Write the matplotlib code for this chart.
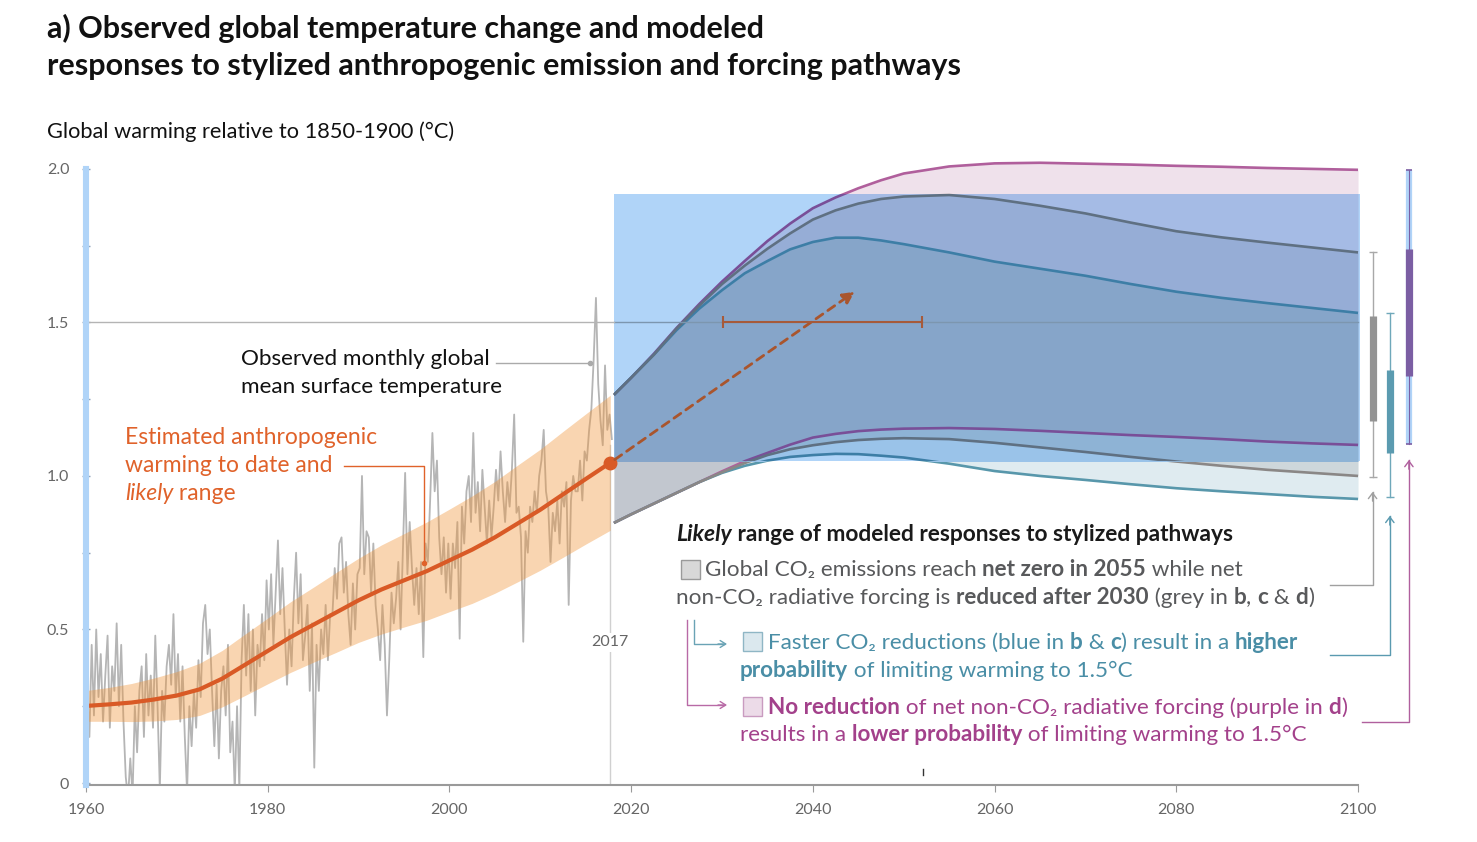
import numpy as np
import matplotlib
matplotlib.use("Agg")
import matplotlib.pyplot as plt
from matplotlib.patches import Rectangle
from matplotlib.colors import to_rgb

plt.rcParams['font.family'] = ['Lato', 'DejaVu Sans']

### DATA ###

# observed global mean surface temperature, quarterly samples
obs_vals = [
    .30, .15, .45, .22,   .50, .28, .42, .20,   .35, .48, .18, .38,   .30, .52, .25, .45,
    .20, .02, -.05, .08,  -.04, .25, .10, .30,  .38, .15, .42, .22,   .35, .18, .48, .25,
    -.02, .30, .20, .38,  .45, .32, .55, .28,   .42, .20, .38, .15,   -.03, .25, .12, .30,
    .18, .40, .28, .52,   .58, .42, .50, .30,   .12, .32, .08, .30,   .38, .22, .45, .10,
    .20, -.03, .25, -.02, .40, .58, .35, .55,   .30, .50, .22, .45,   .38, .55, .40, .66,
    .50, .68, .45, .62,   .79, .55, .70, .50,   .32, .50, .38, .60,   .75, .52, .68, .40,
    .48, .58, .30, .52,   .05, .45, .30, .50,   .42, .58, .40, .55,   .55, .70, .60, .78,
    .80, .62, .72, .55,   .45, .65, .50, .68,   .70, 1.00, .68, .82,  .80, .62, .78, .58,
    .50, .40, .58, .45,   .22, .40, .62, .52,   .60, .72, .50, .75,   1.01, .68, .85, .70,
    .58, .70, .55, .72,   .41, .78, .72, .92,   1.14, .95, 1.05, .80, .68, .80, .62, .78,
    .60, .78, .70, .85,   .47, .90, .78, .95,   1.00, .85, 1.14, .88, .98, .82, 1.02, .90,
    .78, .92, .80, .90,   1.02, .92, 1.08, .95, .85, .98, .90, 1.02, 1.20, .88, .90, .80,
    .46, .82, .75, .90,   .85, .95, .88, 1.00,  1.05, 1.15, .95, .90, .72, .88, .82, .92,
    .78, .95, .90, .98,   .58, .92, 1.00, .95,  .95, 1.05, .92, 1.08, 1.05, 1.15, 1.22, 1.38,
    1.58, 1.30, 1.18, 1.10, 1.36, 1.15, 1.20, 1.12,
]
obs_years = 1960.125 + 0.25 * np.arange(len(obs_vals))

# estimated anthropogenic warming and likely range
anthro_years = [1960, 1962.5, 1965, 1967.5, 1970, 1972.5, 1975, 1977.5, 1980, 1982.5, 1985, 1987.5,
                1990, 1992.5, 1995, 1997.5, 2000, 2002.5, 2005, 2007.5, 2010, 2012.5, 2015, 2017.7]
anthro_mid = [.251, .256, .262, .272, .285, .305, .340, .385, .430, .475, .515, .555,
              .595, .630, .660, .690, .725, .760, .800, .845, .890, .940, .990, 1.043]
anthro_hi = [.301, .311, .324, .342, .363, .390, .432, .485, .537, .590, .637, .685,
             .732, .775, .812, .850, .892, .935, .982, 1.035, 1.087, 1.145, 1.202, 1.263]
anthro_lo = [.201, .201, .200, .202, .207, .220, .248, .285, .323, .360, .393, .425,
             .458, .485, .508, .530, .558, .585, .618, .655, .693, .735, .778, .823]

# modeled responses to stylized pathways (likely ranges)
proj_years = [2018.1, 2020, 2022.5, 2025, 2027.5, 2030, 2032.5, 2035, 2037.5, 2040, 2042.5, 2045,
              2047.5, 2050, 2055, 2060, 2065, 2070, 2075, 2080, 2085, 2090, 2095, 2100]
grey_hi = [1.264, 1.32, 1.395, 1.48, 1.555, 1.625, 1.685, 1.74, 1.79, 1.835, 1.865, 1.887,
           1.902, 1.91, 1.915, 1.902, 1.88, 1.855, 1.825, 1.797, 1.777, 1.76, 1.744, 1.728]
grey_lo = [.847, .875, .91, .945, .98, 1.012, 1.042, 1.068, 1.087, 1.10, 1.11, 1.117,
           1.121, 1.123, 1.12, 1.108, 1.093, 1.078, 1.062, 1.047, 1.033, 1.02, 1.01, 1.0]
blue_hi = [1.264, 1.32, 1.395, 1.475, 1.545, 1.605, 1.66, 1.70, 1.738, 1.762, 1.776, 1.776,
           1.767, 1.755, 1.728, 1.698, 1.675, 1.652, 1.625, 1.60, 1.58, 1.563, 1.547, 1.531]
blue_lo = [.847, .875, .91, .945, .98, 1.01, 1.033, 1.05, 1.062, 1.068, 1.072, 1.071,
           1.066, 1.06, 1.04, 1.016, 1.0, .987, .973, .96, .95, .941, .932, .925]
purple_hi = [1.264, 1.32, 1.398, 1.482, 1.56, 1.633, 1.70, 1.765, 1.822, 1.872, 1.907, 1.937,
             1.963, 1.985, 2.008, 2.018, 2.02, 2.017, 2.014, 2.01, 2.007, 2.003, 2.0, 1.997]
purple_lo = [.847, .875, .91, .945, .98, 1.015, 1.048, 1.075, 1.102, 1.125, 1.137, 1.146,
             1.151, 1.154, 1.156, 1.153, 1.147, 1.14, 1.133, 1.127, 1.12, 1.112, 1.106, 1.101]

# warming in 2100: (whisker low, whisker high, box low, box high)
range_grey = [0.997, 1.73, 1.18, 1.52]
range_blue = [0.93, 1.53, 1.075, 1.345]
range_purple = [1.104, 1.997, 1.326, 1.74]

# current warming rate arrow and 1.5C crossing range
rate_start = [2017.7, 1.043]
rate_end = [2044.6, 1.60]
cross_years = [2030.1, 2052.0]

### STYLE ###
RECT_C = '#b0d4f8'
RECT_RGB = to_rgb(RECT_C)
c_blue_only = '#dfebf0'
c_blue_grey = '#ced7db'
c_all = '#c2c7cf'
c_grey_purple = '#dad0dc'
c_purple_only = '#efe1eb'
line_grey = '#8a8786'
line_blue = '#5897ab'
line_purple = '#b05f9c'


def tint(c):
    return tuple(a * b for a, b in zip(to_rgb(c), RECT_RGB))


def draw_pathways(ax, clip=None):
    z = 3.6 if clip is not None else 3.0
    regions = [(blue_lo, grey_lo, c_blue_only), (grey_lo, purple_lo, c_blue_grey),
               (purple_lo, blue_hi, c_all), (blue_hi, grey_hi, c_grey_purple),
               (grey_hi, purple_hi, c_purple_only)]
    for lo, hi, c in regions:
        col = tint(c) if clip is not None else c
        p = ax.fill_between(proj_years, lo, hi, color=col, lw=0, zorder=z)
        if clip is not None:
            p.set_clip_path(clip)
    lines = [(purple_hi, line_purple), (purple_lo, line_purple), (blue_hi, line_blue),
             (blue_lo, line_blue), (grey_hi, line_grey), (grey_lo, line_grey)]
    for arr, c in lines:
        col = tint(c) if clip is not None else c
        ln, = ax.plot(proj_years, arr, color=col, lw=1.9, zorder=z + 0.1, solid_capstyle='butt')
        if clip is not None:
            ln.set_clip_path(clip)
    col = tint('#b4b4b4') if clip is not None else '#b4b4b4'
    ln, = ax.plot([2018.1, 2100], [1.5, 1.5], color=col, lw=1, zorder=z + 0.2)
    if clip is not None:
        ln.set_clip_path(clip)


### MAIN ###
fig = plt.figure(figsize=(14.77, 8.42), dpi=100)
ax = fig.add_axes([80 / 1477, 57 / 842, 1340 / 1477, 625 / 842])
ax.set_xlim(1959.34, 2106.82)
ax.set_ylim(-0.0065, 2.029)

# observed monthly data and anthropogenic warming
ax.plot(obs_years, obs_vals, color='#b5b5b5', lw=1.3, zorder=2)
ax.fill_between(anthro_years, anthro_lo, anthro_hi, color='#f0963c', alpha=0.4, lw=0, zorder=2.2)
ax.plot(anthro_years, anthro_mid, color='#d95a26', lw=3, zorder=5, solid_capstyle='round')
ax.plot([anthro_years[-1]], [anthro_mid[-1]], 'o', color='#d95a26', ms=9, zorder=6)

# 2017 marker line
ax.plot([2017.7, 2017.7], [0, 1.1], color='#d0d0d0', lw=1, zorder=1)
ax.text(2017.7, 0.458, '2017', ha='center', va='center', fontsize=11.5, color='#666666',
        bbox=dict(facecolor='white', edgecolor='none', pad=2), zorder=1.5)

# pathways: plain colours first, then tinted copy clipped to the blue box
ax.plot([1960, 2018.1], [1.5, 1.5], color='#b4b4b4', lw=1, zorder=4.5)
draw_pathways(ax)
rect = Rectangle((2018.1, 1.049), 82.1, 0.869, facecolor=RECT_C, edgecolor='none', zorder=3.5)
ax.add_patch(rect)
draw_pathways(ax, clip=rect)

# rate arrow and crossing range
ax.annotate('', xy=rate_end, xytext=rate_start,
            arrowprops=dict(arrowstyle='-|>,head_length=0.7,head_width=0.35', color='#a9552d',
                            lw=2, linestyle=(0, (3, 2.2)), shrinkA=4, shrinkB=0), zorder=7)
ax.plot(cross_years, [1.5, 1.5], color='#a65a3a', lw=1.5, marker='|', ms=9, mew=1.5, zorder=7)

# ranges at 2100
for xb, rng, thin_c, box_c in [(2101.6, range_grey, '#a8a8a8', '#939393'),
                               (2103.5, range_blue, '#6fa8ba', '#5b9bb0')]:
    ax.plot([xb, xb], rng[:2], color=thin_c, lw=1, marker='_', ms=6, mew=1, clip_on=False, zorder=5)
    ax.plot([xb, xb], rng[2:], color=box_c, lw=5.2, clip_on=False, zorder=6, solid_capstyle='butt')
xp = 2105.6
ax.plot([xp, xp], range_purple[:2], color=RECT_C, lw=4.5, clip_on=False, zorder=5, solid_capstyle='butt')
ax.plot([xp, xp], range_purple[:2], color='#7b5ea3', lw=0.8, marker='_', ms=5, mew=1.2, clip_on=False, zorder=5.5)
ax.plot([xp, xp], range_purple[2:], color='#7b5ea3', lw=5.2, clip_on=False, zorder=6, solid_capstyle='butt')

# connectors from legend text to range bars
for xb, ytip, yrow, xleft, c in [(2101.6, 0.948, 0.645, 2096.9, '#a0a0a0'),
                                 (2103.5, 0.870, 0.417, 2096.9, '#5a9ab0'),
                                 (2105.6, 1.052, 0.199, 2100.4, '#b0609e')]:
    ax.plot([xleft, xb, xb], [yrow, yrow, ytip], color=c, lw=1, clip_on=False, zorder=5)
    ax.annotate('', xy=(xb, ytip), xytext=(xb, ytip - 0.03),
                arrowprops=dict(arrowstyle='->,head_length=0.4,head_width=0.3', color=c, lw=1,
                                shrinkA=0, shrinkB=0), annotation_clip=False)

# axes styling
for s in ['top', 'right']:
    ax.spines[s].set_visible(False)
ax.spines['bottom'].set_bounds(1960, 2100)
ax.spines['bottom'].set_color('#9a9a9a')
ax.spines['bottom'].set_linewidth(1.5)
ax.spines['left'].set_position(('data', 1960))
ax.spines['left'].set_bounds(-0.0065, 2.0)
ax.spines['left'].set_color(RECT_C)
ax.spines['left'].set_linewidth(4.4)
ax.spines['left'].set_zorder(8)
ax.set_xticks(range(1960, 2101, 20))
ax.set_xticklabels([str(y) for y in range(1960, 2101, 20)])
ax.set_yticks(np.arange(0, 2.01, 0.25))
ax.set_yticklabels(['0', '', '0.5', '', '1.0', '', '1.5', '', '2.0'])
ax.tick_params(axis='x', length=5, color='#9a9a9a', labelsize=11.5, labelcolor='#666666', pad=8)
ax.tick_params(axis='y', direction='inout', length=6, width=1, color='#8ea3b8',
               labelsize=11.5, labelcolor='#666666', pad=9)
ax.set_facecolor('none')

### TEXT OVERLAY (pixel coordinates) ###
ov = fig.add_axes([0, 0, 1, 1], zorder=10)
ov.set_xlim(0, 1477)
ov.set_ylim(842, 0)
ov.axis('off')
ov.patch.set_alpha(0)
rend = fig.canvas.get_renderer()


def text_w(s, **kw):
    t = ov.text(0, 0, s, **kw)
    w = t.get_window_extent(renderer=rend).width
    t.remove()
    return w


def rich(x, y, parts, size, color):
    for txt, bold, ital in parts:
        kw = dict(fontsize=size, fontweight='bold' if bold else 'normal',
                  fontstyle='italic' if ital else 'normal')
        ov.text(x, y, txt, color=color, va='baseline', ha='left', **kw)
        x += text_w(txt + '|', **kw) - text_w('|', **kw)


FS = 16.2
ov.text(47, 38, 'a) Observed global temperature change and modeled', fontsize=22,
        fontweight='bold', color='#111111', va='baseline')
ov.text(47, 75, 'responses to stylized anthropogenic emission and forcing pathways', fontsize=22,
        fontweight='bold', color='#111111', va='baseline')
ov.text(47, 138, 'Global warming relative to 1850-1900 (°C)', fontsize=15.7, color='#111111',
        va='baseline')

ov.text(241, 365, 'Observed monthly global', fontsize=FS, color='#111111', va='baseline')
ov.text(241, 393, 'mean surface temperature', fontsize=FS, color='#111111', va='baseline')
ov.plot([496, 590], [363, 363], color='#aaaaaa', lw=1)
ov.plot([590], [363], 'o', color='#aaaaaa', ms=3)

org = '#e0622a'
ov.text(125, 444, 'Estimated anthropogenic', fontsize=16.5, color=org, va='baseline')
ov.text(125, 472, 'warming to date and', fontsize=16.5, color=org, va='baseline')
rich(125, 500, [('likely', False, True), (' range', False, False)], 16.5, org)
ov.plot([344, 424, 424], [466, 466, 563], color=org, lw=1)
ov.plot([424], [563], 'o', color=org, ms=3)

rich(676, 541, [('Likely', True, True), (' range of modeled responses to stylized pathways', True, False)],
     16.4, '#1a1a1a')

gcol = '#58595b'
ov.add_patch(Rectangle((681, 560), 19, 19, facecolor='#d8d8d8', edgecolor='#9a9a9a', lw=1))
rich(705, 576, [('Global CO₂ emissions reach ', False, False), ('net zero in 2055', True, False),
                (' while net', False, False)], FS, gcol)
rich(676, 604, [('non-CO₂ radiative forcing is ', False, False), ('reduced after 2030', True, False),
                (' (grey in ', False, False), ('b', True, False), (', ', False, False),
                ('c', True, False), (' & ', False, False), ('d', True, False), (')', False, False)],
     FS, gcol)

tcol = '#4a8ea6'
ov.add_patch(Rectangle((743, 632), 19, 19, facecolor='#dbe8ee', edgecolor='#8fb6c5', lw=1))
rich(768, 649, [('Faster CO₂ reductions (blue in ', False, False), ('b', True, False),
                (' & ', False, False), ('c', True, False), (') result in a ', False, False),
                ('higher', True, False)], FS, tcol)
rich(740, 677, [('probability', True, False), (' of limiting warming to 1.5°C', False, False)],
     FS, tcol)

pcol = '#a3418b'
ov.add_patch(Rectangle((743, 697), 19, 19, facecolor='#ecdbe8', edgecolor='#c99bc0', lw=1))
rich(768, 714, [('No reduction', True, False), (' of net non-CO₂ radiative forcing (purple in ', False, False),
                ('d', True, False), (')', False, False)], FS, pcol)
rich(740, 741, [('results in a ', False, False), ('lower probability', True, False),
                (' of limiting warming to 1.5°C', False, False)], FS, pcol)

# elbow leaders from the grey entry
ov.plot([694, 694, 724], [620, 644, 644], color='#6aa3b5', lw=1)
ov.annotate('', xy=(727, 644), xytext=(718, 644),
            arrowprops=dict(arrowstyle='->,head_length=0.4,head_width=0.25', color='#6aa3b5', lw=1,
                            shrinkA=0, shrinkB=0))
ov.plot([687, 687, 724], [620, 705, 705], color='#b86aa6', lw=1)
ov.annotate('', xy=(727, 705), xytext=(718, 705),
            arrowprops=dict(arrowstyle='->,head_length=0.4,head_width=0.25', color='#b86aa6', lw=1,
                            shrinkA=0, shrinkB=0))
ov.plot([923, 923], [769, 775], color='#333333', lw=1)

fig.savefig('out.png', dpi=100)
